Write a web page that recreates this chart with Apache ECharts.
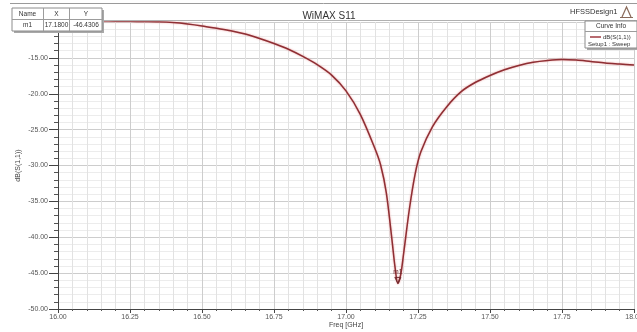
<!DOCTYPE html>
<html>
<head>
<meta charset="utf-8">
<script src="https://cdn.jsdelivr.net/npm/echarts@6/dist/echarts.min.js"></script>
<style>
  html, body { margin: 0; padding: 0; background: #fff; }
  #chart { width: 637px; height: 332px; }
</style>
</head>
<body>
<div id="chart"></div>
<script>
// Return loss sweep, dB(S(1,1)) against frequency in GHz
const freq = [16.00, 16.05, 16.10, 16.15, 16.20, 16.25, 16.30, 16.35, 16.40, 16.45,
              16.50, 16.55, 16.60, 16.65, 16.70, 16.75, 16.80, 16.85, 16.90, 16.95,
              17.00, 17.05, 17.10, 17.12, 17.14, 17.16, 17.17, 17.18, 17.19, 17.20,
              17.22, 17.24, 17.26, 17.30, 17.35, 17.40, 17.45, 17.50, 17.55, 17.60,
              17.65, 17.70, 17.75, 17.80, 17.85, 17.90, 17.95, 18.00];
const s11 = [-9.85, -9.85, -9.86, -9.87, -9.88, -9.90, -9.93, -9.97, -10.08, -10.28,
             -10.55, -10.88, -11.22, -11.68, -12.30, -13.00, -13.80, -14.80, -15.95, -17.40,
             -19.60, -22.90, -27.60, -29.90, -33.80, -40.50, -44.10, -46.4306, -45.20, -42.30,
             -36.10, -31.20, -28.10, -24.60, -21.80, -19.70, -18.40, -17.45, -16.65, -16.05,
             -15.60, -15.35, -15.22, -15.30, -15.50, -15.70, -15.85, -16.00];

// Marker m1
const markerName = 'm1';
const markerFreq = 17.18;
const markerVal = -46.4306;

const chartTitle = 'WiMAX S11';
const designName = 'HFSSDesign1';
const traceName = 'dB(S(1,1))';
const sweepName = 'Setup1 : Sweep';

const FONT = '"Liberation Sans", Arial, sans-serif';
const Y_MAX = -10;

const chart = echarts.init(document.getElementById('chart'), null, { renderer: 'canvas' });

const points = freq.map((f, i) => [f, s11[i]]);

// Elements of the overlay boxes sit above the axes
const TOP = { zlevel: 2, z: 100 };

function cellText(x, y, text) {
  return Object.assign({ type: 'text', x: x, y: y,
    style: { text: text, font: '6.5px ' + FONT, fill: '#333',
             align: 'center', verticalAlign: 'middle' } }, TOP);
}
function box(extra) { return Object.assign(extra, TOP); }

chart.setOption({
  animation: false,
  backgroundColor: '#ffffff',
  title: {
    text: chartTitle,
    left: 324, top: 6, textAlign: 'center',
    textStyle: { fontFamily: FONT, fontSize: 10, fontWeight: 'normal', color: '#333' }
  },
  grid: { left: 58, right: 3, top: 22, bottom: 23, outerBoundsMode: 'none', containLabel: false },
  xAxis: {
    type: 'value', min: 16, max: 18, interval: 0.25,
    name: 'Freq [GHz]', nameLocation: 'middle', nameGap: 12.5, nameMoveOverlap: false,
    nameTextStyle: { fontFamily: FONT, fontSize: 7, color: '#444' },
    axisLine: { onZero: false, lineStyle: { color: '#444', width: 1 } },
    axisTick: { show: true, length: 4, lineStyle: { color: '#444' } },
    minorTick: { show: true, splitNumber: 5, length: 2, lineStyle: { color: '#555' } },
    axisLabel: { fontFamily: FONT, fontSize: 7, color: '#555', margin: 5,
                 formatter: v => v.toFixed(2) },
    splitLine: { show: true, lineStyle: { color: '#cdcdcd', width: 1 } },
    minorSplitLine: { show: true, lineStyle: { color: '#e2e2e2', width: 1 } }
  },
  yAxis: {
    type: 'value', min: -50, max: Y_MAX, interval: 5,
    name: traceName, nameLocation: 'middle', nameGap: 36, nameRotate: 90, nameMoveOverlap: false,
    nameTextStyle: { fontFamily: FONT, fontSize: 7, color: '#444' },
    axisLine: { show: true, onZero: false, lineStyle: { color: '#444', width: 1 } },
    axisTick: { show: true, length: 9, lineStyle: { color: '#444' } },
    minorTick: { show: true, splitNumber: 5, length: 4, lineStyle: { color: '#555' } },
    // the top value sits under the marker table
    axisLabel: { fontFamily: FONT, fontSize: 7, color: '#555', margin: 10,
                 formatter: v => (v === Y_MAX ? '' : v.toFixed(2)) },
    splitLine: { show: true, lineStyle: { color: '#cdcdcd', width: 1 } },
    minorSplitLine: { show: true, lineStyle: { color: '#ececec', width: 1 } }
  },
  series: [{
    type: 'line',
    name: traceName,
    data: points,
    smooth: 0.3,
    showSymbol: false,
    lineStyle: { color: '#8e2f34', width: 1.5,
                 shadowColor: 'rgba(225,110,110,0.7)', shadowBlur: 2 },
    markPoint: {
      silent: true,
      data: [{ coord: [markerFreq, markerVal], name: markerName }],
      symbol: 'triangle', symbolSize: [6, 6], symbolRotate: 180,
      symbolOffset: [0, -3],
      itemStyle: { color: 'rgba(0,0,0,0)', borderColor: '#6e2a2e', borderWidth: 1 },
      label: { show: true, position: 'top', distance: 1, formatter: markerName,
               fontFamily: FONT, fontSize: 6.5, color: '#6e2a2e' }
    }
  }],
  graphic: [
    // title bar frame
    { type: 'line', shape: { x1: 10, y1: 3.5, x2: 637, y2: 3.5 },
      style: { stroke: '#9a9a9a', lineWidth: 1 } },
    { type: 'line', shape: { x1: 58, y1: 20.5, x2: 637, y2: 20.5 },
      style: { stroke: '#b0b0b0', lineWidth: 1 } },
    { type: 'line', shape: { x1: 634.5, y1: 20.5, x2: 634.5, y2: 309 },
      style: { stroke: '#9a9a9a', lineWidth: 1 } },
    { type: 'text', x: 570, y: 12,
      style: { text: designName, font: '7.5px ' + FONT, fill: '#333', verticalAlign: 'middle' } },
    // logo glyph
    { type: 'polyline', shape: { points: [[622, 17], [626.5, 7], [631, 17]] },
      style: { stroke: '#8a6a5a', lineWidth: 1.2, fill: null } },
    { type: 'line', shape: { x1: 620, y1: 17.5, x2: 633, y2: 17.5 },
      style: { stroke: '#8a6a5a', lineWidth: 1 } },

    // marker table
    box({ type: 'group', x: 12, y: 8, children: [
      box({ type: 'rect', shape: { x: 2, y: 2, width: 90, height: 23 }, style: { fill: '#a8a8a8' } }),
      box({ type: 'rect', shape: { x: 0, y: 0, width: 90, height: 23 },
        style: { fill: '#ffffff', stroke: '#8c8c8c', lineWidth: 1 } }),
      box({ type: 'line', shape: { x1: 0, y1: 11.5, x2: 90, y2: 11.5 }, style: { stroke: '#9c9c9c' } }),
      box({ type: 'line', shape: { x1: 31.5, y1: 0, x2: 31.5, y2: 23 }, style: { stroke: '#9c9c9c' } }),
      box({ type: 'line', shape: { x1: 57.5, y1: 0, x2: 57.5, y2: 23 }, style: { stroke: '#9c9c9c' } }),
      cellText(15.5, 6, 'Name'),
      cellText(44.5, 6, 'X'),
      cellText(74, 6, 'Y'),
      cellText(15.5, 17.5, markerName),
      cellText(44.5, 17.5, markerFreq.toFixed(4)),
      cellText(74, 17.5, markerVal.toFixed(4))
    ]}),

    // curve info box
    box({ type: 'group', x: 585, y: 21, children: [
      box({ type: 'rect', shape: { x: 2, y: 2, width: 52, height: 27 }, style: { fill: '#a8a8a8' } }),
      box({ type: 'rect', shape: { x: 0, y: 0, width: 52, height: 27 },
        style: { fill: '#ffffff', stroke: '#8c8c8c', lineWidth: 1 } }),
      box({ type: 'line', shape: { x1: 0, y1: 10.5, x2: 52, y2: 10.5 }, style: { stroke: '#9c9c9c' } }),
      cellText(26, 5.5, 'Curve Info'),
      box({ type: 'line', shape: { x1: 5, y1: 16, x2: 16, y2: 16 }, style: { stroke: '#a03a40', lineWidth: 1.5 } }),
      box({ type: 'text', x: 18, y: 16, style: { text: traceName, font: '6px ' + FONT, fill: '#333', verticalAlign: 'middle' } }),
      box({ type: 'text', x: 3, y: 23, style: { text: sweepName, font: '6px ' + FONT, fill: '#333', verticalAlign: 'middle' } })
    ]})
  ]
});
</script>
</body>
</html>
